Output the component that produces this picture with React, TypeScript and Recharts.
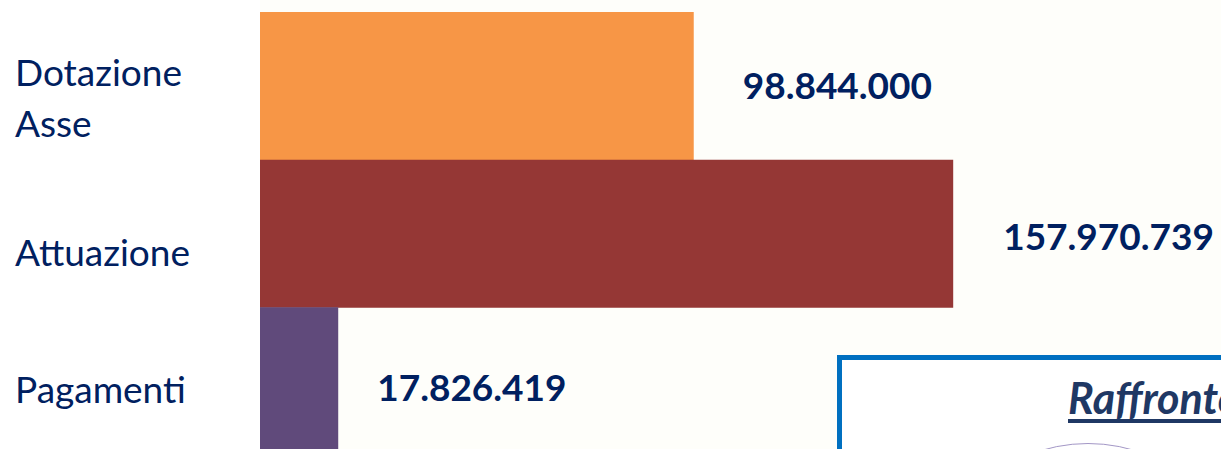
import React from "react";
import { BarChart, Bar, XAxis, YAxis, Cell, LabelList } from "recharts";

// categorie e valori
const categories = ["Dotazione Asse", "Attuazione", "Pagamenti"];
const values = [98844000, 157970739, 17826419];
const barColors = ["#F79646", "#953735", "#604A7B"];
const boxTitle = "Raffronto";

// piccoli aggiustamenti di posizione delle etichette (px)
const tickNudge = [11, 17, 7];
const valueNudgeY = [-1.5, 2, 5.5];
const valueGapX = [49, 50, 39];

const NAVY = "#002060";
const FONT = "Lato, 'Open Sans', sans-serif";

const data = categories.map((name, i) => ({ name, value: values[i], idx: i }));

const fmt = (v: number) => String(Math.round(v)).replace(/\B(?=(\d{3})+(?!\d))/g, ".");

function CategoryTick(props: any) {
  const { y, payload, index } = props;
  const lines = String(payload.value).split(" ");
  const lh = 51;
  const first = y + (tickNudge[index] ?? 0) - ((lines.length - 1) * lh) / 2;
  return (
    <text x={15} y={first} textAnchor="start" dominantBaseline="central" fill={NAVY} fontSize={37} fontFamily={FONT}>
      {lines.map((l, i) => (
        <tspan key={i} x={15} y={first + i * lh}>
          {l}
        </tspan>
      ))}
    </text>
  );
}

function ValueLabel(props: any) {
  const { x, y, width, height, value, index } = props;
  return (
    <text
      x={x + width + (valueGapX[index] ?? 48)}
      y={y + height / 2 + (valueNudgeY[index] ?? 0)}
      textAnchor="start"
      dominantBaseline="central"
      fill={NAVY}
      fontSize={37}
      fontWeight={700}
      fontFamily={FONT}
    >
      {fmt(value)}
    </text>
  );
}

export default function App() {
  return (
    <div style={{ position: "absolute", left: 0, top: 0, width: 1221, height: 449, overflow: "hidden", background: "#FFFFFF" }}>
      <div style={{ position: "absolute", left: 260, top: 0, right: 0, bottom: 0, background: "#FEFEFA" }} />
      <div style={{ position: "absolute", left: 0, top: 0 }}>
        <BarChart
          width={1221}
          height={470}
          data={data}
          layout="vertical"
          margin={{ top: 12, right: 0, bottom: 15, left: 0 }}
          barCategoryGap={0}
        >
          <XAxis type="number" hide domain={[0, 219000000]} />
          <YAxis type="category" dataKey="name" width={260} axisLine={false} tickLine={false} tick={<CategoryTick />} interval={0} />
          <Bar dataKey="value" isAnimationActive={false}>
            {data.map((d) => (
              <Cell key={d.name} fill={barColors[d.idx]} />
            ))}
            <LabelList dataKey="value" content={<ValueLabel />} />
          </Bar>
        </BarChart>
      </div>
      <div
        style={{
          position: "absolute",
          left: 837,
          top: 355,
          width: 500,
          height: 200,
          border: "5px solid #0070C0",
          background: "#FFFFFF",
          overflow: "hidden",
        }}
      >
        <div
          style={{
            position: "absolute",
            left: 226,
            top: 16,
            fontFamily: FONT,
            fontSize: 43,
            fontWeight: 700,
            fontStyle: "italic",
            color: "#1F3864",
            textDecoration: "underline",
            textDecorationThickness: 4,
            textUnderlineOffset: 5,
            whiteSpace: "nowrap",
            lineHeight: 1,
          }}
        >
          {boxTitle}
        </div>
        <div
          style={{
            position: "absolute",
            left: 85,
            top: 83,
            width: 320,
            height: 320,
            borderRadius: "50%",
            border: "1.5px solid #A397C6",
          }}
        />
      </div>
    </div>
  );
}
